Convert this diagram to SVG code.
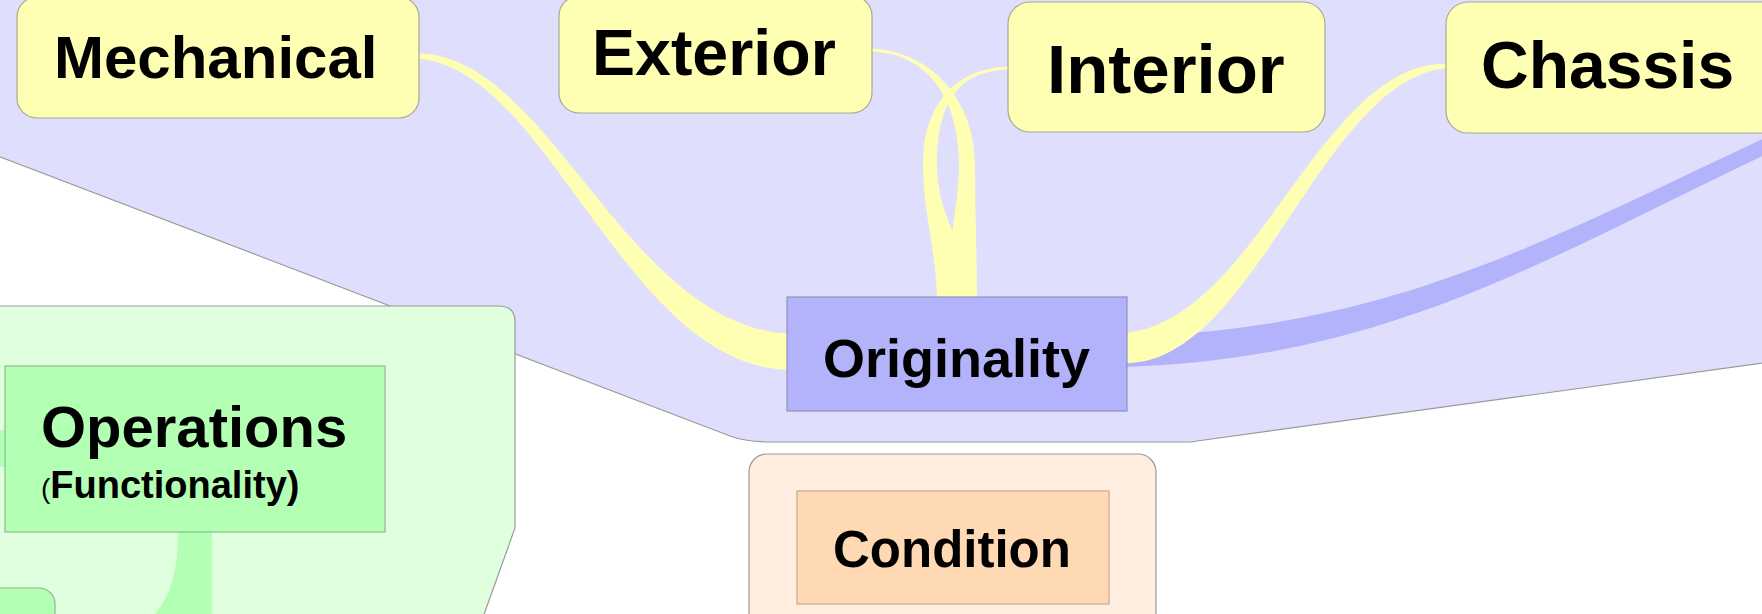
<svg xmlns="http://www.w3.org/2000/svg" width="1762" height="614" viewBox="0 0 1762 614">
<style>
.t{font-family:"Liberation Sans",Arial,sans-serif;font-weight:bold;fill:#000}
.yel{fill:#ffffb3;stroke:#a8a890;stroke-width:1.2}
.ycon{fill:#ffffb3}
.pur{fill:#b3b3fb}
.grn{fill:#b3ffb3}
.region{stroke:#9a9a9a;stroke-width:1.2}
</style>
<rect width="1762" height="614" fill="#ffffff"/>
<g id="region-originality">
<path class="region" fill="#dfdffd" d="M-10,153 L730,436 Q746,442 770,442 L1189,442 Q1193,442 1197,441 L1800,358 L1800,-10 L-10,-10 Z"/>
</g>
<g id="region-operations">
<path class="region" fill="#dfffdf" d="M-10,306 H499 Q515,306 515,322 V528 L482,620 H-10 Z"/>
</g>
<g id="region-condition">
<rect class="region" fill="#ffeedf" x="749" y="454" width="407" height="200" rx="18"/>
</g>
<g id="connectors">
<path class="pur" d="M1120,337 C1400,330 1557,233 1797,123 L1803,137 C1563,247 1400,360 1120,367 Z"/>
<path class="ycon" d="M415,53.5 C550,50 625,331 795,334 L795,370 C625,373 550,64 415,58.5 Z"/>
<path class="ycon" d="M868,48.5 C925,48.5 975,95 975,165 C975,215 977,250 977,305 L952,305 L952,236 C953,220 959,195 959,165 C959,95 925,51.5 868,51.5 Z"/>
<path class="ycon" d="M1012,66.5 C960,66.5 923,100 923,165 C923,215 937,250 937,305 L955,305 L955,236 C948,222 937,195 937,165 C937,100 960,69.5 1012,69.5 Z"/>
<path class="ycon" d="M1450,64 C1320,57 1255,329 1120,333 L1120,363 C1255,371 1320,75 1450,68 Z"/>
<path class="grn" d="M178,528 L212,528 L212,620 L150,620 C168,600 178,580 178,528 Z"/>
<rect class="grn" x="-10" y="430" width="16" height="37"/>
</g>
<g id="node-mechanical">
<rect class="yel" x="17" y="-3" width="402" height="121" rx="20"/>
<text class="t" x="54" y="78" font-size="60">Mechanical</text>
</g>
<g id="node-exterior">
<rect class="yel" x="559" y="-4" width="313" height="117" rx="20"/>
<text class="t" x="592" y="75" font-size="64.5">Exterior</text>
</g>
<g id="node-interior">
<rect class="yel" x="1008" y="2" width="317" height="130" rx="22"/>
<text class="t" x="1047" y="93" font-size="69">Interior</text>
</g>
<g id="node-chassis">
<rect class="yel" x="1446" y="2" width="340" height="131" rx="22"/>
<text class="t" x="1481" y="88" font-size="66">Chassis</text>
</g>
<g id="node-originality">
<rect fill="#b3b3fb" stroke="#9090c0" stroke-width="1.2" x="787" y="297" width="340" height="114"/>
<text class="t" x="823" y="377" font-size="54">Originality</text>
</g>
<g id="node-operations">
<rect fill="#b3ffb3" stroke="#90b890" stroke-width="1.2" x="5" y="366" width="380" height="166"/>
<text class="t" x="41" y="447" font-size="58">Operations</text>
<text class="t" x="41" y="498" font-size="38"><tspan font-size="28" font-weight="normal">(</tspan>Functionality)</text>
</g>
<g id="node-bottom-left">
<rect fill="#b3ffb3" stroke="#90b890" stroke-width="1.2" x="-20" y="588" width="75" height="60" rx="16"/>
</g>
<g id="node-condition">
<rect fill="#ffd9b3" stroke="#c8a890" stroke-width="1.2" x="797" y="491" width="312" height="113"/>
<text class="t" x="833" y="567" font-size="51">Condition</text>
</g>
</svg>
